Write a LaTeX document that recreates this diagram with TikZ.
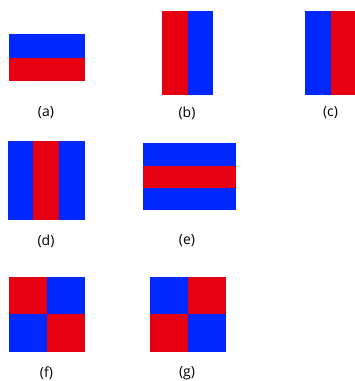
\documentclass[tikz,border=0pt]{standalone}
\usepackage{fontspec}
\setmainfont{Open Sans}
\definecolor{flagblue}{HTML}{0028FF}
\definecolor{flagred}{HTML}{E60012}
\begin{document}
\begin{tikzpicture}[x=1pt,y=-1pt,
  bl/.style={fill=flagblue,draw=none},
  rd/.style={fill=flagred,draw=none},
  lbl/.style={font=\fontsize{14}{16}\selectfont,inner sep=0pt}]
\useasboundingbox (0,0) rectangle (355,381);
% (a) two horizontal bands
\fill[bl] (8.5,34.3) rectangle (85,57.7);
\fill[rd] (8.5,57.7) rectangle (85,80.7);
\node[lbl] (la) at (46,113) {(a)};
% (b) red | blue
\fill[rd] (161.7,10.7) rectangle (187.7,94.7);
\fill[bl] (187.7,10.7) rectangle (213.3,94.7);
\node[lbl] (lb) at (187,113) {(b)};
% (c) blue | red
\fill[bl] (305,10.7) rectangle (330.7,94.7);
\fill[rd] (330.7,10.7) rectangle (355,94.7);
\node[lbl] (lc) at (330.5,113) {(c)};
% (d) blue | red | blue
\fill[bl] (7.7,141) rectangle (33.3,220);
\fill[rd] (33.3,141) rectangle (59,220);
\fill[bl] (59,141) rectangle (85,220);
\node[lbl] (ld) at (46,241) {(d)};
% (e) blue / red / blue
\fill[bl] (143.3,143.3) rectangle (235.7,165.7);
\fill[rd] (143.3,165.7) rectangle (235.7,188);
\fill[bl] (143.3,188) rectangle (235.7,210);
\node[lbl] (le) at (187,241) {(e)};
% (f) checkerboard starting red
\fill[rd] (9.3,276.7) rectangle (47,314.3);
\fill[bl] (47,276.7) rectangle (85,314.3);
\fill[bl] (9.3,314.3) rectangle (47,352.3);
\fill[rd] (47,314.3) rectangle (85,352.3);
\node[lbl] (lf) at (46.5,373) {(f)};
% (g) checkerboard starting blue
\fill[bl] (150,276.7) rectangle (187.7,314.3);
\fill[rd] (187.7,276.7) rectangle (225.7,314.3);
\fill[rd] (150,314.3) rectangle (187.7,352.3);
\fill[bl] (187.7,314.3) rectangle (225.7,352.3);
\node[lbl] (lg) at (187,373) {(g)};
\end{tikzpicture}
\end{document}
